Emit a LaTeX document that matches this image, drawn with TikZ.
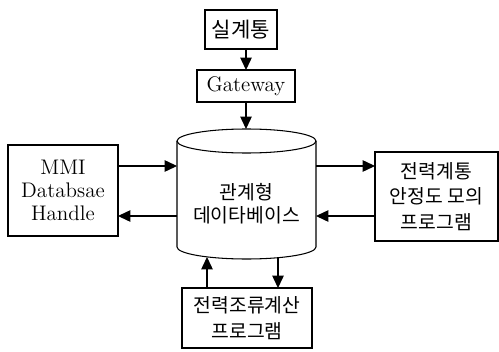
\documentclass[tikz,border=0pt]{standalone}
\usepackage{fontspec}
\newfontfamily\kor{Noto Sans CJK KR}
\usetikzlibrary{arrows.meta}

\begin{document}
\begin{tikzpicture}[x=0.02cm, y=-0.02cm,
  box/.style={draw, line width=0.6pt, inner sep=0pt, outer sep=0pt},
  arr/.style={line width=0.6pt, -{Triangle[length=7pt, width=6.5pt]}},
  eng/.style={font=\fontsize{12}{13}\selectfont, align=center},
  han/.style={font=\kor\fontsize{11}{14.7}\selectfont, align=center}]
\useasboundingbox (0,0) rectangle (499,351);

\node[box, han, font=\kor\fontsize{12}{14}\selectfont, minimum width=72*0.02cm, minimum height=39*0.02cm] (sil) at (241,29.5) {실계통};
\node[box, eng, minimum width=98*0.02cm, minimum height=32*0.02cm] (gw) at (246,86) {Gateway};
\node[box, eng, line width=1pt, minimum width=110*0.02cm, minimum height=91*0.02cm] (mmi) at (63,190.5) {MMI\\Databsae\\Handle};
\node[box, han, minimum width=123*0.02cm, minimum height=89*0.02cm] (sim) at (436.5,196.5) {전력계통\\안정도 모의\\프로그램};
\node[box, han, minimum width=130*0.02cm, minimum height=60*0.02cm] (flow) at (247,318) {전력조류계산\\프로그램};

% database
\node[inner sep=0pt, outer sep=0pt, minimum width=139*0.02cm, minimum height=106*0.02cm] (db) at (246.5,194) {};
\draw[line width=0.6pt] (db.north west) -- (db.south west)
  arc[start angle=180, end angle=360, x radius=1.39cm, y radius=0.24cm] -- (db.north east);
\draw[line width=0.6pt] (db.north) ellipse [x radius=1.39cm, y radius=0.24cm];
\node[han, font=\kor\fontsize{11}{13}\selectfont] (dbtxt) at (246.5,203.5) {관계형\\데이타베이스};

\coordinate (dbtop) at (246,129);
\coordinate (rowa) at (0,166);
\coordinate (rowb) at (0,216);
\coordinate (upx) at (207,257);
\coordinate (dnx) at (278,257.5);

\draw[arr] (sil.south -| gw.north) -- (gw.north);
\draw[arr] (gw.south) -- (dbtop);
\draw[arr] (mmi.east |- rowa) -- (db.west |- rowa);
\draw[arr] (db.west |- rowb) -- (mmi.east |- rowb);
\draw[arr] (db.east |- rowa) -- (sim.west |- rowa);
\draw[arr] (sim.west |- rowb) -- (db.east |- rowb);
\draw[arr] (flow.north -| upx) -- (upx);
\draw[arr] (dnx) -- (flow.north -| dnx);
\end{tikzpicture}
\end{document}
